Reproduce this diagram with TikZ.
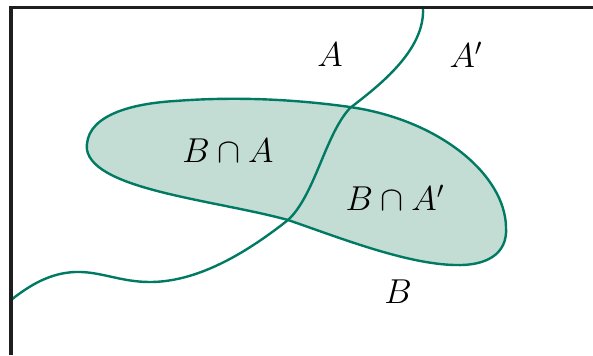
\documentclass[tikz,border=0pt]{standalone}
\usepackage{amsmath,amssymb}
\usetikzlibrary{positioning}

\definecolor{venngreen}{HTML}{007A63}
\definecolor{vennfill}{HTML}{C3DDD5}

\begin{document}
\begin{tikzpicture}[
  x=0.5pt, y=-0.5pt,
  frame/.style={line width=1.6pt, black!88},
  region/.style={draw=venngreen, fill=vennfill, line width=1.2pt},
  border/.style={draw=venngreen, line width=1.2pt},
  lab/.style={font=\fontsize{16.5}{20}\selectfont}
]
\useasboundingbox (0,0) rectangle (593,355);
% event B
\draw[region] (87,150) .. controls (84,118) and (125,104) .. (175,101)
  .. controls (240,96) and (300,100) .. (350,107)
  .. controls (440,120) and (505,175) .. (506,227)
  .. controls (508,255) and (485,266) .. (455,265)
  .. controls (405,264) and (335,236) .. (288,220)
  .. controls (215,200) and (95,190) .. (87,150) -- cycle;
% boundary of A
\draw[border] (423,8) .. controls (425,50) and (380,85) .. (350,108)
  .. controls (325,135) and (315,195) .. (288,220)
  .. controls (250,250) and (200,282) .. (150,282)
  .. controls (120,282) and (100,271) .. (75,272)
  .. controls (50,273) and (30,285) .. (11,300);
% frame
\draw[frame] (593,7.5) -- (11,7.5) -- (11,355);
% labels
\node[lab] (a)    at (330,55)  {$A$};
\node[lab] (abar) at (466,55)  {$A'$};
\node[lab] (ba)   at (228,151) {$B\cap A$};
\node[lab] (bab)  at (395,198) {$B\cap A'$};
\node[lab] (b)    at (398,292) {$B$};
\end{tikzpicture}
\end{document}
